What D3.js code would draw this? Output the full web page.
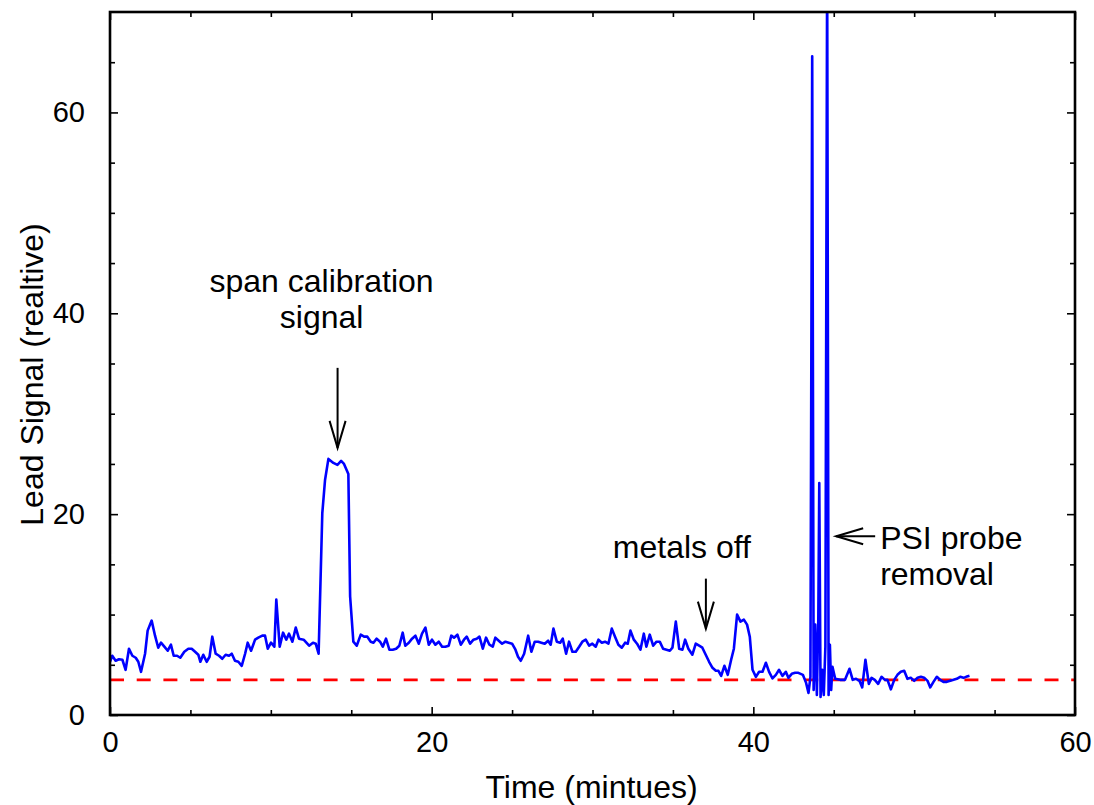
<!DOCTYPE html>
<html>
<head>
<meta charset="utf-8">
<script src="https://cdn.jsdelivr.net/npm/d3@7"></script>
<style>
  body { margin: 0; background: #fff; }
  text { font-family: "Liberation Sans", Arial, sans-serif; }
</style>
</head>
<body>
<div id="chart"></div>
<script>
//////lead signal vs time, blue trace + red dashed baseline
//////arrows + notes drawn on top

///// time in minutes
const timeMin = [
  0, 0.14, 0.35, 0.56, 0.77, 0.97, 1.18, 1.39, 1.6, 1.76, 1.93, 2.18, 2.34, 2.59, 2.8, 3.0, 3.17, 3.38, 3.59, 3.79,
  3.96, 4.17, 4.37, 4.62, 4.87, 5.08, 5.29, 5.49, 5.62, 5.8, 6.01, 6.19, 6.36, 6.57, 6.78, 6.98, 7.19, 7.4, 7.57, 7.77,
  7.98, 8.19, 8.4, 8.56, 8.77, 9.02, 9.22, 9.47, 9.64, 9.81, 10.01, 10.22, 10.34, 10.55, 10.76, 10.96, 11.13, 11.34, 11.55, 11.75,
  12.04, 12.38, 12.62, 12.79, 12.97,
  13.2, 13.37, 13.58, 13.89, 14.14, 14.37, 14.55, 14.82, 14.93, 15.13,
  15.34, 15.59, 15.8, 16.0, 16.21, 16.38, 16.58, 16.79, 16.96, 17.16, 17.37, 17.58, 17.79, 17.99, 18.2, 18.36, 18.58, 18.78, 18.99, 19.2,
  19.4, 19.61, 19.82, 20.02, 20.23, 20.44, 20.65, 20.85, 21.06, 21.22, 21.39, 21.6, 21.81, 22.01, 22.18, 22.39, 22.6, 22.8, 22.97, 23.18,
  23.38, 23.59, 23.8, 23.96, 24.17, 24.38, 24.59, 24.79, 25.0, 25.21, 25.37, 25.54, 25.75, 26.0, 26.2, 26.41, 26.62, 26.82, 27.03, 27.24,
  27.4, 27.57, 27.78, 27.99, 28.15, 28.36,
  28.54, 28.75, 28.96, 29.17, 29.37, 29.58, 29.79, 29.99, 30.2, 30.37, 30.58, 30.78, 30.99, 31.2, 31.4, 31.61, 31.82, 32.03, 32.19, 32.36,
  32.57, 32.77, 32.98, 33.19, 33.35, 33.56, 33.77, 33.98, 34.18, 34.39, 34.6, 34.81, 34.97, 35.18, 35.39, 35.59, 35.76, 35.96, 36.21, 36.42,
  36.63, 36.83, 37.04, 37.25, 37.46, 37.67, 37.83, 38.0, 38.2, 38.41, 38.62, 38.79, 38.99, 39.2, 39.41, 39.61, 39.78, 39.95, 40.16, 40.36,
  40.57, 40.78, 40.98, 41.19, 41.4, 41.6, 41.81, 42.02, 42.18, 42.39, 42.6,
  42.8, 43.08, 43.28, 43.43, 43.55, 43.66, 43.75, 43.85, 43.95, 44.04, 44.1, 44.18, 44.28, 44.38, 44.48, 44.59, 44.68, 44.76, 44.84, 44.92, 45.09,
  45.4, 45.7, 45.98, 46.18, 46.39, 46.6, 46.77, 46.97, 47.18, 47.35, 47.55, 47.76, 47.97, 48.18, 48.34, 48.55, 48.76, 48.96, 49.17, 49.38,
  49.58, 49.79, 50.0, 50.21, 50.42, 50.62, 50.83, 51.0, 51.2, 51.41, 51.62, 51.82, 52.03, 52.24, 52.45, 52.65, 52.86, 53.07, 53.23, 53.44
];

///// lead signal (relative)
const leadSignal = [
  5.3, 5.9, 5.4, 5.55, 5.5, 4.5, 6.6, 5.9, 5.7, 5.3, 4.3, 6.1, 8.4, 9.4, 7.9, 6.7, 7.2, 6.8, 6.4, 7.0,
  5.9, 5.9, 5.7, 6.3, 6.6, 6.6, 6.3, 6.0, 5.3, 6.0, 5.3, 5.8, 7.8, 6.1, 5.9, 5.6, 6.0, 5.9, 6.1, 5.4,
  5.3, 4.9, 6.1, 7.2, 6.4, 7.5, 7.7, 7.9, 7.9, 6.6, 7.2, 6.8, 11.5, 6.8, 8.2, 7.5, 8.1, 7.3, 8.7, 7.6,
  7.5, 6.9, 7.2, 7.1, 6.1,
  20.1, 23.4, 25.5, 25.1, 24.9, 25.3, 25.0, 24.0, 11.8, 7.3,
  6.9, 8.0, 7.8, 7.8, 7.3, 7.2, 7.6, 7.3, 6.8, 7.6, 6.5, 6.5, 6.6, 6.9, 8.2, 6.9, 7.2, 7.6, 7.9, 7.1,
  8.1, 8.7, 7.0, 7.5, 7.0, 7.3, 6.8, 6.8, 6.9, 7.9, 7.7, 8.0, 7.0, 7.5, 7.8, 7.1, 7.5, 7.6, 7.8, 6.6,
  7.7, 7.0, 6.8, 7.7, 7.4, 7.1, 7.3, 7.2, 7.1, 6.5, 5.8, 5.4, 6.1, 7.9, 6.3, 7.3, 7.3, 7.2, 7.1, 7.4,
  7.0, 8.6, 7.3, 7.2, 7.6, 6.1,
  7.3, 6.3, 6.3, 6.8, 7.3, 7.5, 6.9, 7.1, 6.8, 7.5, 7.2, 7.3, 7.1, 8.6, 7.8, 7.0, 6.7, 7.2, 7.1, 8.4,
  7.5, 7.1, 6.5, 8.1, 6.8, 8.0, 6.9, 7.3, 7.3, 6.6, 6.5, 6.4, 6.7, 9.3, 6.6, 6.5, 7.5, 6.6, 6.0, 7.1,
  6.9, 6.7, 6.0, 5.3, 4.7, 4.4, 4.4, 3.9, 4.9, 4.0, 5.5, 6.6, 10.0, 9.3, 9.5, 9.0, 7.8, 4.5, 3.8, 4.3,
  4.3, 5.2, 4.3, 3.65, 4.0, 4.5, 3.9, 4.3, 3.7, 4.1, 4.2,
  4.2, 4.0, 3.2, 2.2, 3.8, 65.6, 2.5, 9.0, 2.0, 9.5, 23.1, 1.8, 4.5, 2.0, 6.8, 75, 2.0, 7.0, 2.5, 4.8, 3.6,
  3.5, 3.5, 4.6, 3.5, 3.6, 3.4, 2.75, 5.5, 3.1, 3.7, 3.5, 3.1, 3.8, 3.5, 3.5, 2.55, 3.5, 4.0, 4.3, 4.4,
  3.6, 3.7, 3.4, 3.7, 3.8, 3.7, 3.4, 2.75, 3.3, 3.8, 3.5, 3.3, 3.3, 3.4, 3.5, 3.6, 3.8, 3.7, 3.8, 3.9
];

const baseline = 3.5;                 ///// red dashed level
const xMajorTicks = [0, 20, 40, 60];
const yMajorTicks = [0, 20, 40, 60];
const xMinorTicks = [5, 10, 15, 25, 30, 35, 45, 50, 55];
const yMinorTicks = [5, 10, 15, 25, 30, 35, 45, 50, 55, 65];

///// notes: [lines of text, x time, y value of the arrow tip]
const notes = [
  { lines: ["span calibration", "signal"], t: 14.15, v: 26.6 },
  { lines: ["metals off"], t: 37.05, v: 8.6 },
  { lines: ["PSI probe", "removal"], t: 45.15, v: 17.8 }
];

var margin = {top: 12, right: 19, bottom: 90, left: 110};
var width = 1094 - margin.left - margin.right;
var height = 805 - margin.top - margin.bottom;

var svg = d3.select('#chart')
    .append('svg')
      .attr('width', 1094)
      .attr('height', 805);

var g = svg.append('g')
    .attr('transform', 'translate(' + margin.left + ',' + margin.top + ')');

var x = d3.scaleLinear().domain([0, 60]).range([0, width]);
var y = d3.scaleLinear().domain([0, 70]).range([height, 0]);

g.append('clipPath').attr('id', 'plotclip')
  .append('rect').attr('width', width).attr('height', height);

////red dashed baseline
g.append('line')
    .attr('x1', x(0)).attr('x2', x(60))
    .attr('y1', y(baseline)).attr('y2', y(baseline))
    .style('stroke', '#ff0000')
    .style('stroke-width', 2.6)
    .style('stroke-dasharray', '14,12.7');

////blue trace
var pts = timeMin.map((t, i) => [t, leadSignal[i]]);
var line = d3.line().x(d => x(d[0])).y(d => y(d[1]));

g.append('path')
    .datum(pts)
    .attr('clip-path', 'url(#plotclip)')
    .attr('d', line)
    .style('fill', 'none')
    .style('stroke', '#0000ff')
    .style('stroke-width', 2.6)
    .style('stroke-linejoin', 'round');

////axes - ticks point inward on all four sides
var tickFont = '29px';
var labelFont = '32px';

function styleAxis(sel) {
  sel.select('.domain').remove();
  sel.selectAll('line').style('stroke', '#000').style('stroke-width', 1.6);
  sel.selectAll('text').style('font-size', tickFont).style('fill', '#000');
}

g.append('g').attr('transform', 'translate(0,' + height + ')')
  .call(d3.axisBottom(x).tickValues(xMajorTicks).tickSizeInner(-8).tickSizeOuter(0).tickPadding(16))
  .call(styleAxis);
g.append('g').attr('transform', 'translate(0,' + height + ')')
  .call(d3.axisBottom(x).tickValues(xMinorTicks).tickSizeInner(-5).tickSizeOuter(0).tickFormat(''))
  .call(styleAxis);
g.append('g')
  .call(d3.axisTop(x).tickValues(xMajorTicks).tickSizeInner(-8).tickSizeOuter(0).tickFormat(''))
  .call(styleAxis);
g.append('g')
  .call(d3.axisTop(x).tickValues(xMinorTicks).tickSizeInner(-5).tickSizeOuter(0).tickFormat(''))
  .call(styleAxis);

g.append('g')
  .call(d3.axisLeft(y).tickValues(yMajorTicks).tickSizeInner(-8).tickSizeOuter(0).tickPadding(25))
  .call(styleAxis);
g.append('g')
  .call(d3.axisLeft(y).tickValues(yMinorTicks).tickSizeInner(-5).tickSizeOuter(0).tickFormat(''))
  .call(styleAxis);
g.append('g').attr('transform', 'translate(' + width + ',0)')
  .call(d3.axisRight(y).tickValues(yMajorTicks).tickSizeInner(-8).tickSizeOuter(0).tickFormat(''))
  .call(styleAxis);
g.append('g').attr('transform', 'translate(' + width + ',0)')
  .call(d3.axisRight(y).tickValues(yMinorTicks).tickSizeInner(-5).tickSizeOuter(0).tickFormat(''))
  .call(styleAxis);

////frame
g.append('rect')
    .attr('width', width)
    .attr('height', height)
    .style('fill', 'none')
    .style('stroke', '#000')
    .style('stroke-width', 2.6);

////axis titles
g.append('text')
    .text('Time (mintues)')
    .attr('x', width / 2 - 1)
    .attr('y', height + 83)
    .attr('text-anchor', 'middle')
    .style('font-size', labelFont);

g.append('text')
    .text('Lead Signal (realtive)')
    .attr('transform', 'translate(' + (-margin.left + 43) + ',' + (height / 2 + 11) + ') rotate(-90)')
    .attr('text-anchor', 'middle')
    .style('font-size', labelFont);

////annotations
var arrows = g.append('g')
    .style('stroke', '#000')
    .style('stroke-width', 2)
    .style('fill', 'none');

function downArrow(n, len) {
  var tx = x(n.t), ty = y(n.v);
  arrows.append('line').attr('x1', tx).attr('x2', tx).attr('y1', ty - len).attr('y2', ty);
  arrows.append('polyline').attr('points', [[tx - 8, ty - 27], [tx, ty], [tx + 8, ty - 27]].join(' '));
}

downArrow(notes[0], 80);
downArrow(notes[1], 50);

////left pointing arrow for probe removal
var pn = notes[2];
var px = x(pn.t), py = y(pn.v);
arrows.append('line').attr('x1', px).attr('x2', px + 39).attr('y1', py).attr('y2', py);
arrows.append('polyline').attr('points', [[px + 27, py - 8], [px, py], [px + 27, py + 8]].join(' '));

g.append('text')
    .attr('text-anchor', 'middle')
    .style('font-size', labelFont)
    .selectAll('tspan')
    .data(notes[0].lines)
    .enter().append('tspan')
      .attr('x', x(notes[0].t) - 16)
      .attr('y', (d, i) => 280 + i * 36)
      .text(d => d);

g.append('text')
    .attr('text-anchor', 'middle')
    .style('font-size', labelFont)
    .text(notes[1].lines[0])
    .attr('x', x(notes[1].t) - 24)
    .attr('y', 546);

g.append('text')
    .style('font-size', labelFont)
    .selectAll('tspan')
    .data(notes[2].lines)
    .enter().append('tspan')
      .attr('x', px + 44)
      .attr('y', (d, i) => 537 + i * 36)
      .text(d => d);
</script>
</body>
</html>
